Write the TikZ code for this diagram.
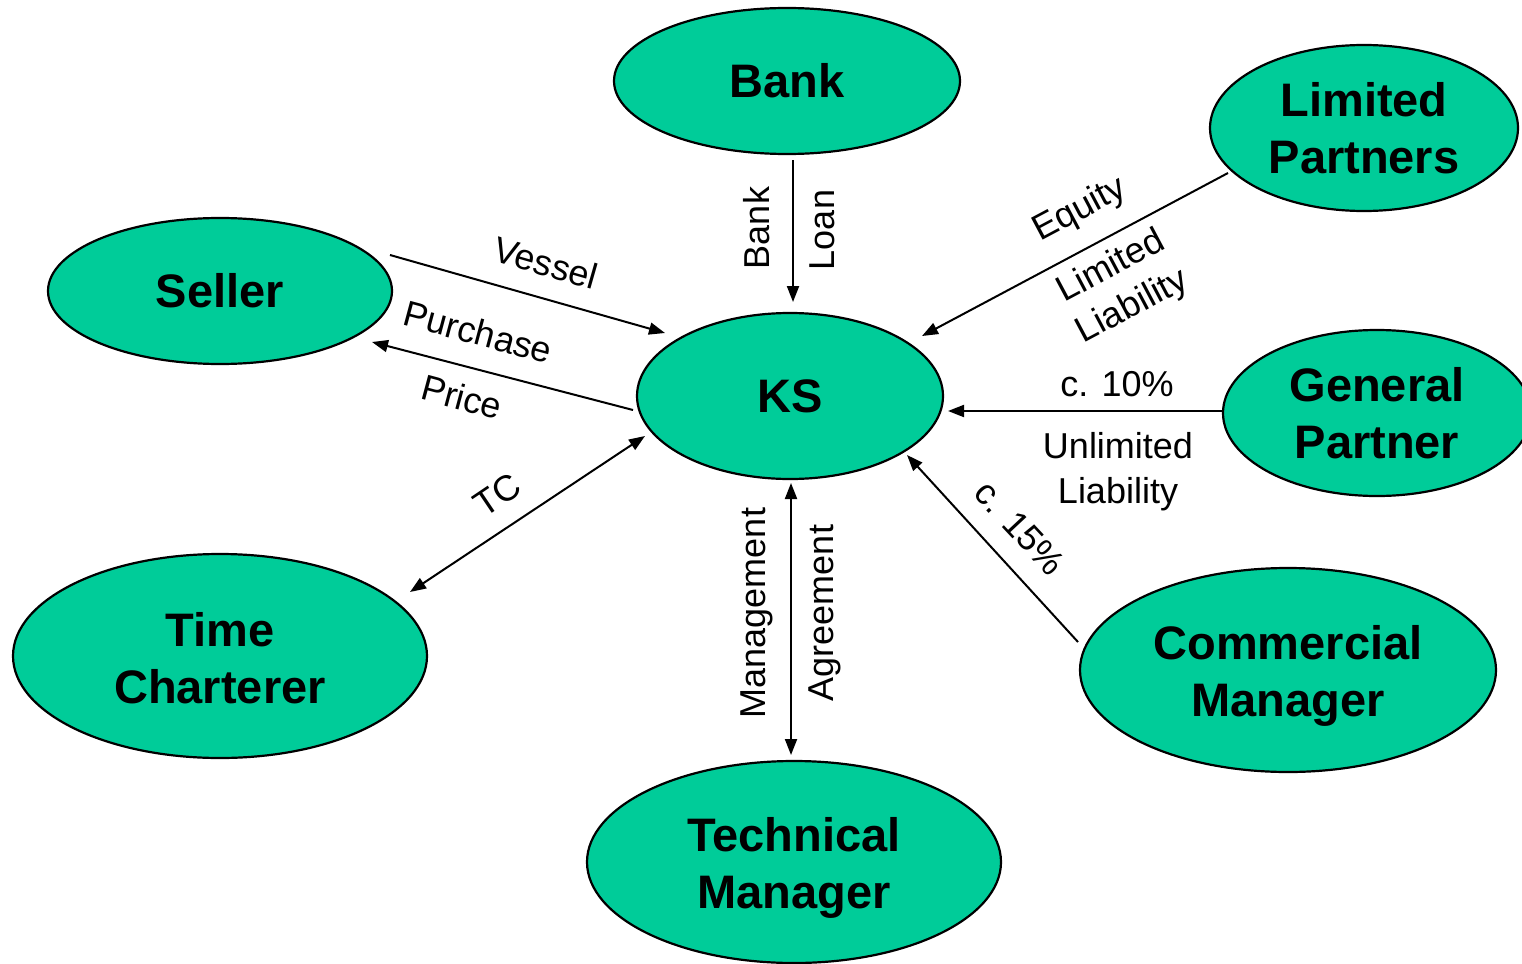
\documentclass[tikz,border=0pt]{standalone}
\usepackage{fontspec}
\setmainfont{Liberation Sans}
\usetikzlibrary{shapes.geometric,arrows.meta}
\definecolor{ksgreen}{RGB}{0,204,153}
\begin{document}
\begin{tikzpicture}[x=1pt,y=-1pt,
  ent/.style={ellipse, draw=black, line width=2.2pt, fill=ksgreen, inner sep=0pt, align=center,
    font=\fontsize{47}{57}\selectfont\bfseries},
  lbl/.style={inner sep=0pt, align=center, font=\fontsize{36}{45}\selectfont},
  arr/.style={line width=2pt, -{Triangle[length=16pt,width=12pt]}},
  darr/.style={line width=2pt, {Triangle[length=16pt,width=12pt]}-{Triangle[length=16pt,width=12pt]}}]
\useasboundingbox (0,0) rectangle (1522,963);
% entities
\node[ent, minimum width=346pt, minimum height=146pt] (bank) at (787,81) {Bank};
\node[ent, minimum width=308pt, minimum height=166pt] (lp) at (1364,128) {Limited\\Partners};
\node[ent, minimum width=344pt, minimum height=146pt] (seller) at (220,291) {Seller};
\node[ent, minimum width=306pt, minimum height=166pt] (ks) at (790,396) {KS};
\node[ent, minimum width=308pt, minimum height=166pt] (gp) at (1377,413) {General\\Partner};
\node[ent, minimum width=414pt, minimum height=204pt] (tc) at (220,656) {\rule{0pt}{38pt}Time\\Charterer};
\node[ent, minimum width=416pt, minimum height=204pt] (cm) at (1288,670) {\rule{0pt}{46pt}Commercial\\Manager};
\node[ent, minimum width=414pt, minimum height=202pt] (tm) at (794,862) {\rule{0pt}{46pt}Technical\\Manager};
% connectors
\draw[arr] ([shift={(6,79)}]bank.center) -- ([shift={(3,-94)}]ks.center);
\draw[arr] ([shift={(170,-36)}]seller.center) -- ([shift={(-125,-63)}]ks.center);
\draw[arr] ([shift={(-157,14)}]ks.center) -- ([shift={(152,51)}]seller.center);
\draw[arr] ([shift={(-136,45)}]lp.center) -- ([shift={(132,-60)}]ks.center);
\draw[arr] ([shift={(-155,-2)}]gp.center) -- ([shift={(158,15)}]ks.center);
\draw[arr] ([shift={(-210,-28)}]cm.center) -- ([shift={(117,59)}]ks.center);
\draw[darr] ([shift={(-145,40)}]ks.center) -- ([shift={(190,-64)}]tc.center);
\draw[darr] ([shift={(1,87)}]ks.center) -- ([shift={(-3,-107)}]tm.center);
% labels
\node[lbl, rotate=90] (lbank) at (757,228) {Bank};
\node[lbl, rotate=90] (lloan) at (822,230) {Loan};
\node[lbl, rotate=-16] (lvessel) at (546,263) {Vessel};
\node[lbl, rotate=-15] (lpurch) at (478,332) {Purchase};
\node[lbl, rotate=-15] (lprice) at (462,397) {Price};
\node[lbl, rotate=28] (lequity) at (1080,210) {Equity};
\node[lbl, rotate=28] (llimit) at (1122,287) {Limited\\Liability};
\node[lbl] (lten) at (1117,384) {c. 10\%};
\node[lbl] (lunlim) at (1118,472) {Unlimited\\Liability};
\node[lbl, rotate=-47] (lfifteen) at (1020,528) {c. 15\%};
\node[lbl, rotate=34] (ltc) at (497,495) {TC};
\node[lbl, rotate=90] (lmgmt) at (757,613) {Management};
\node[lbl, rotate=90] (lagree) at (825,613) {Agreement};
\end{tikzpicture}
\end{document}
